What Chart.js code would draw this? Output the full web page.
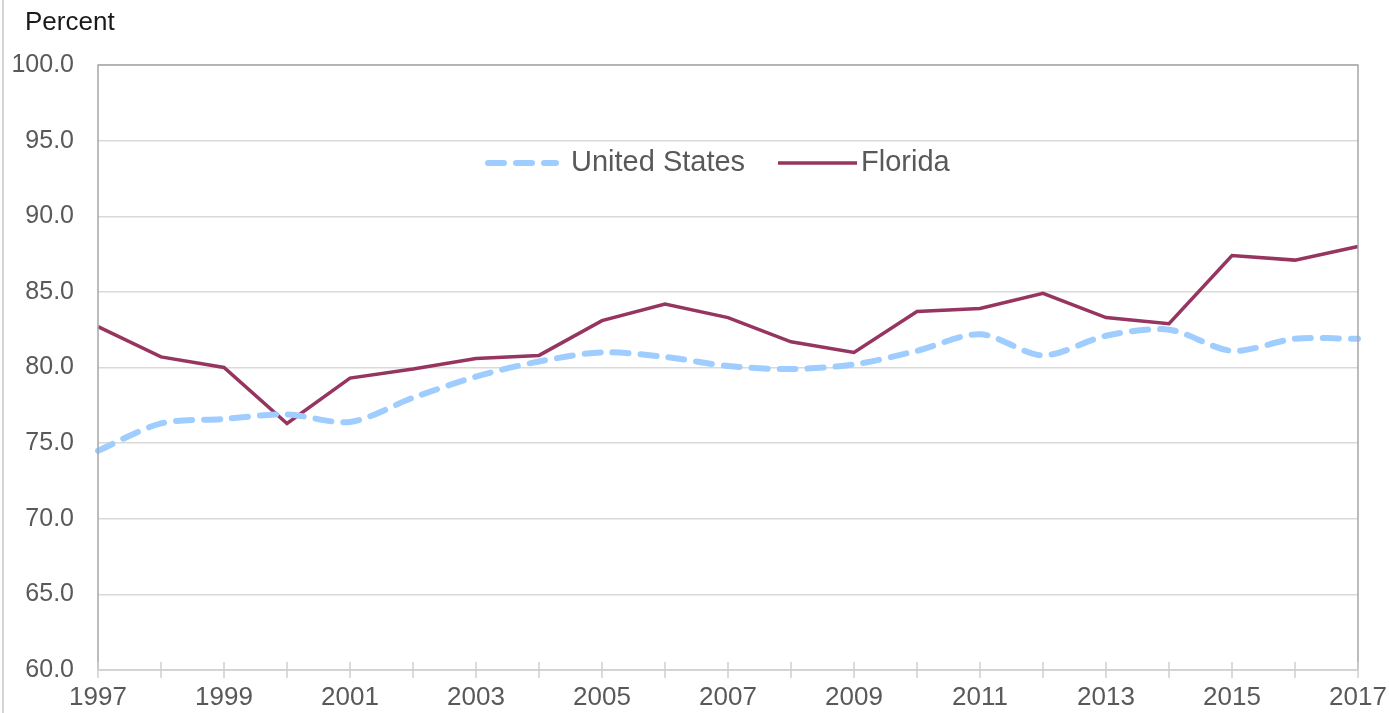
<!DOCTYPE html>
<html>
<head>
<meta charset="utf-8">
<script src="https://cdn.jsdelivr.net/npm/chart.js@4/dist/chart.umd.min.js"></script>
<style>
  html, body { margin: 0; padding: 0; background: #fff; }
  canvas { display: block; }
</style>
</head>
<body>
<canvas id="myLineChart" width="1389" height="713"></canvas>
<script>
// years on the x axis
const years = ["1997","1998","1999","2000","2001","2002","2003","2004","2005","2006","2007",
               "2008","2009","2010","2011","2012","2013","2014","2015","2016","2017"];

// percent values
const us_values = [74.5, 76.3, 76.6, 76.9, 76.4, 78.0, 79.4, 80.4, 81.0, 80.7, 80.1,
                   79.9, 80.2, 81.1, 82.2, 80.8, 82.1, 82.5, 81.1, 81.9, 81.9];
const florida_values = [82.7, 80.7, 80.0, 76.3, 79.3, 79.9, 80.6, 80.8, 83.1, 84.2, 83.3,
                        81.7, 81.0, 83.7, 83.9, 84.9, 83.3, 82.9, 87.4, 87.1, 88.0];

const series_names = ["United States", "Florida"];
const y_min = 60;
const y_max = 100;
const y_step = 5;

const FONT = "'Liberation Sans', Arial, sans-serif";
const TEXT_COLOR = "#595959";
const US_COLOR = "#9fcdff";
const FL_COLOR = "#963560";

// frame, cross ticks, legend and "Percent" label
const decorPlugin = {
    id: "decor",
    afterDraw(chart){
        const ctx = chart.ctx;
        const area = chart.chartArea;
        const x = chart.scales.x;
        ctx.save();

        // outer page line on the left
        ctx.strokeStyle = "#d4d4d4";
        ctx.lineWidth = 2;
        ctx.beginPath();
        ctx.moveTo(3, 0);
        ctx.lineTo(3, chart.height);
        ctx.stroke();

        // plot border: top, left, right
        ctx.strokeStyle = "#a6a6a6";
        ctx.lineWidth = 1.5;
        ctx.beginPath();
        ctx.moveTo(area.left, area.bottom);
        ctx.lineTo(area.left, area.top);
        ctx.lineTo(area.right, area.top);
        ctx.lineTo(area.right, area.bottom);
        ctx.stroke();

        // bottom axis with crossing tick marks
        ctx.strokeStyle = "#d0d0d0";
        ctx.lineWidth = 1.5;
        ctx.beginPath();
        ctx.moveTo(area.left, area.bottom);
        ctx.lineTo(area.right, area.bottom);
        for(let i = 0; i < years.length; i++){
            const px = Math.round(x.getPixelForValue(i));
            ctx.moveTo(px, area.bottom - 8);
            ctx.lineTo(px, area.bottom + 8);
        }
        ctx.stroke();

        // "Percent"
        ctx.fillStyle = "#1a1a1a";
        ctx.font = "26px " + FONT;
        ctx.textBaseline = "middle";
        ctx.textAlign = "left";
        ctx.fillText("Percent", 25, 23);

        // legend inside the plot
        const ly = 163;
        ctx.lineWidth = 6;
        ctx.lineCap = "round";
        ctx.strokeStyle = US_COLOR;
        ctx.setLineDash([16, 12]);
        ctx.beginPath();
        ctx.moveTo(488, ly);
        ctx.lineTo(556, ly);
        ctx.stroke();
        ctx.setLineDash([]);

        ctx.lineWidth = 3.5;
        ctx.lineCap = "butt";
        ctx.strokeStyle = FL_COLOR;
        ctx.beginPath();
        ctx.moveTo(778, ly);
        ctx.lineTo(857, ly);
        ctx.stroke();

        ctx.fillStyle = TEXT_COLOR;
        ctx.font = "29px " + FONT;
        ctx.fillText(series_names[0], 571, ly);
        ctx.fillText(series_names[1], 861, ly);

        ctx.restore();
    }
};

const context = document.getElementById("myLineChart");
const myLineChart = new Chart(context, {
    type: "line",
    data: {
        labels: years,
        datasets: [{
            label: series_names[0],
            data: us_values,
            borderColor: US_COLOR,
            borderWidth: 6,
            borderDash: [16, 12],
            borderCapStyle: "round",
            tension: 0.3,
            pointRadius: 0,
            fill: false
        },{
            label: series_names[1],
            data: florida_values,
            borderColor: FL_COLOR,
            borderWidth: 3.5,
            borderJoinStyle: "miter",
            tension: 0,
            pointRadius: 0,
            fill: false
        }]
    },
    options: {
        responsive: false,
        animation: false,
        layout: {
            padding: { top: 65, right: 31, left: 0, bottom: 0 }
        },
        plugins: {
            legend: { display: false },
            tooltip: { enabled: false }
        },
        scales: {
            x: {
                offset: false,
                grid: { display: false },
                border: { display: false },
                ticks: {
                    autoSkip: false,
                    maxRotation: 0,
                    padding: 4,
                    color: TEXT_COLOR,
                    font: { family: FONT, size: 26 },
                    callback: function(value, index){
                        if(index % 2 === 0){ return years[index] };
                        return "";
                    }
                },
                afterFit: function(scale){
                    scale.height = 43;
                    scale.paddingLeft = 0;
                    scale.paddingRight = 0;
                }
            },
            y: {
                min: y_min,
                max: y_max,
                grid: {
                    color: "#d9d9d9",
                    lineWidth: 1.5,
                    drawTicks: false
                },
                border: { display: false },
                ticks: {
                    stepSize: y_step,
                    padding: 24,
                    color: TEXT_COLOR,
                    font: { family: FONT, size: 25 },
                    callback: function(value){ return value.toFixed(1); }
                },
                afterFit: function(scale){
                    scale.width = 98;
                    scale.paddingTop = 0;
                    scale.paddingBottom = 0;
                }
            }
        }
    },
    plugins: [decorPlugin]
});
</script>
</body>
</html>
